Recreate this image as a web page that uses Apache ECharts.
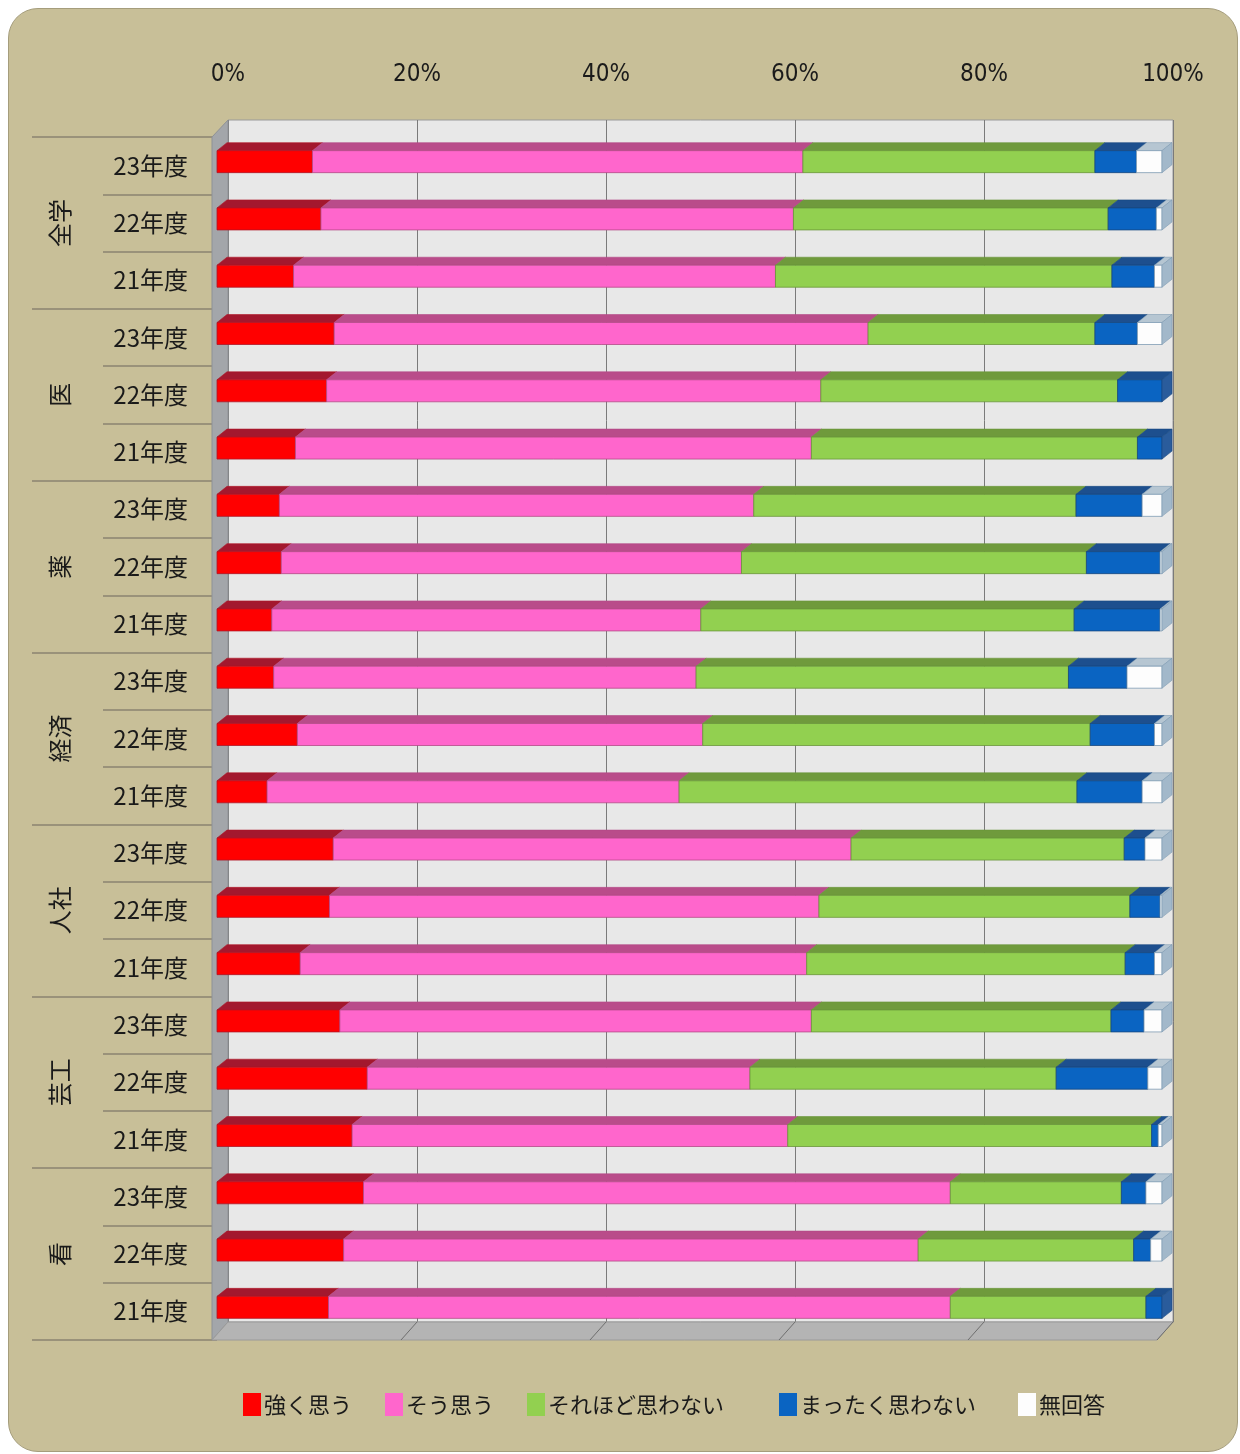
<!DOCTYPE html>
<html>
<head>
<meta charset="utf-8">
<script src="https://cdn.jsdelivr.net/npm/echarts@6/dist/echarts.min.js"></script>
<style>
  html, body { margin: 0; padding: 0; background: #fff; }
  #frame {
    position: absolute; left: 8px; top: 8px; width: 1228px; height: 1442px;
    background: #c8bf98; border: 1px solid #a59d7c; border-radius: 30px;
  }
  #chart { position: absolute; left: 0; top: 0; width: 1240px; height: 1454px; }
</style>
</head>
<body>
<div id="frame"></div>
<div id="chart"></div>
<script>
(function() {
  'use strict';

  // ========== Data ==========
  var groups = ['全学', '医', '薬', '経済', '人社', '芸工', '看'];
  var years = ['23年度', '22年度', '21年度'];
  var seriesNames = ['強く思う', 'そう思う', 'それほど思わない', 'まったく思わない', '無回答'];

  // one value per row (group x year, top to bottom), percent
  var strong = [10.1, 11.0, 8.1, 12.4, 11.6, 8.3, 6.6, 6.8, 5.8, 6.0, 8.5, 5.3, 12.3, 11.9, 8.8, 13.0, 15.9, 14.3, 15.5, 13.4, 11.8];
  var agree = [51.9, 50.0, 51.0, 56.5, 52.3, 54.6, 50.2, 48.7, 45.4, 44.7, 42.9, 43.6, 54.8, 51.8, 53.6, 49.9, 40.5, 46.1, 62.1, 60.8, 65.8];
  var notMuch = [30.9, 33.3, 35.6, 24.0, 31.4, 34.5, 34.1, 36.5, 39.5, 39.4, 41.0, 42.1, 28.9, 32.9, 33.7, 31.7, 32.4, 38.5, 18.1, 22.8, 20.7];
  var notAtAll = [4.4, 5.1, 4.5, 4.5, 4.7, 2.6, 7.0, 7.8, 9.1, 6.2, 6.8, 6.9, 2.2, 3.2, 3.1, 3.5, 9.7, 0.7, 2.6, 1.8, 1.7];
  var noAnswer = [2.7, 0.6, 0.8, 2.6, 0, 0, 2.1, 0.2, 0.2, 3.7, 0.8, 2.1, 1.8, 0.2, 0.8, 1.9, 1.5, 0.4, 1.7, 1.2, 0];

  var xTicks = [0, 20, 40, 60, 80, 100];

  var valueSets = [strong, agree, notMuch, notAtAll, noAnswer];
  var faceColors = ['#ff0000', '#ff66cc', '#92d050', '#0a64c2', '#fdfdfd'];
  var topColors = ['#a3182e', '#b94c8a', '#6f9a3c', '#1d4f8e', '#b6c6d2'];
  var sideColors = ['#c01020', '#c8559a', '#7aa844', '#2a5c9c', '#a2b8ca'];
  var edgeColors = ['#b01526', '#b34a86', '#6a953a', '#17487f', '#7f9cb4'];
  var legendLeft = [243, 385, 527, 779, 1018];

  var rowLabels = [];
  groups.forEach(function(g) {
    years.forEach(function(y) { rowLabels.push(y); });
  });

  // stacked start/end per row for each answer
  var stacked = valueSets.map(function() { return []; });
  rowLabels.forEach(function(l, r) {
    var acc = 0;
    valueSets.forEach(function(vals, k) {
      stacked[k].push([r, acc, acc + vals[r]]);
      acc += vals[r];
    });
  });

  var DX = 10, DY = 8;

  function makeRender(k) {
    return function(params, api) {
      var row = api.value(0), s = api.value(1), e = api.value(2);
      if (e - s <= 0) return;
      var p0 = api.coord([s, row]);
      var p1 = api.coord([e, row]);
      var yc = p0[1];
      var top = yc - 15, bot = yc + 7;
      var x0 = p0[0], x1 = p1[0];
      var children = [
        {
          type: 'polygon',
          shape: { points: [[x0, top], [x0 + DX, top - DY], [x1 + DX, top - DY], [x1, top]] },
          style: { fill: topColors[k], stroke: edgeColors[k], lineWidth: 0.6 }
        },
        {
          type: 'rect',
          shape: { x: x0, y: top, width: x1 - x0, height: bot - top },
          style: { fill: faceColors[k], stroke: edgeColors[k], lineWidth: 0.8 }
        }
      ];
      if (e >= 99.9) {
        children.push({
          type: 'polygon',
          shape: { points: [[x1, top], [x1 + DX, top - DY], [x1 + DX, bot - DY], [x1, bot]] },
          style: { fill: sideColors[k], stroke: edgeColors[k], lineWidth: 0.6 }
        });
      }
      return { type: 'group', children: children };
    };
  }

  var lineColor = '#8a8470';
  var ink = '#1a1a1a';
  var cjk = "'Noto Sans CJK JP', sans-serif";

  var chart = echarts.init(document.getElementById('chart'), null, { renderer: 'canvas' });
  chart.setOption({
    animation: false,
    backgroundColor: 'transparent',
    grid: [
      // back wall
      { left: 228, right: 67, top: 120, bottom: 132, show: true, backgroundColor: '#e8e8e8', borderColor: '#9a9a9a', borderWidth: 1 },
      // bars / year labels
      { left: 217, right: 78, top: 137, bottom: 114 },
      // group labels
      { left: 217, right: 78, top: 137, bottom: 114 }
    ],
    xAxis: [
      {
        gridIndex: 0, type: 'value', position: 'top', min: 0, max: 100, interval: 20,
        axisLine: { show: true, lineStyle: { color: '#9a9a9a' } },
        axisTick: { show: true, length: 8, lineStyle: { color: '#7a7a7a' } },
        axisLabel: {
          margin: 33, color: ink, fontSize: 24,
          fontFamily: "'Liberation Sans Narrow', 'DejaVu Sans Condensed', sans-serif",
          formatter: '{value}%'
        },
        splitLine: { show: true, lineStyle: { color: '#7a7a7a', width: 1 } }
      },
      { gridIndex: 1, type: 'value', min: 0, max: 100, show: false },
      { gridIndex: 2, type: 'value', min: 0, max: 100, show: false }
    ],
    yAxis: [
      { gridIndex: 0, type: 'value', show: false },
      {
        gridIndex: 1, type: 'category', data: rowLabels, inverse: true, offset: 5,
        axisLine: { show: false },
        axisTick: { show: true, length: 114, lineStyle: { color: lineColor, width: 1.5 } },
        axisLabel: { margin: 24, color: ink, fontSize: 24, fontFamily: cjk }
      },
      {
        gridIndex: 2, type: 'category', data: groups, inverse: true, offset: 5,
        axisLine: { show: false },
        axisTick: { show: true, length: 185, lineStyle: { color: lineColor, width: 1.5 } },
        axisLabel: {
          margin: 152, rotate: 90, align: 'center', verticalAlign: 'middle',
          color: ink, fontSize: 24, fontFamily: cjk
        }
      }
    ],
    // one legend per item so each sits where the original has it
    legend: seriesNames.map(function(name, i) {
      return {
        left: legendLeft[i], top: 1393, padding: 0,
        itemWidth: 18, itemHeight: 23,
        icon: 'rect',
        textStyle: { color: ink, fontSize: 22, fontFamily: cjk, padding: [0, 0, 0, -2] },
        data: [name]
      };
    }),
    series: seriesNames.map(function(name, k) {
      return {
        name: name,
        type: 'custom',
        xAxisIndex: 1,
        yAxisIndex: 1,
        z: 3,
        itemStyle: { color: faceColors[k] },
        encode: { x: [1, 2], y: 0 },
        renderItem: makeRender(k),
        data: stacked[k]
      };
    })
  });

  // ========== 3D walls (decoration) ==========
  var yTop = 120, yBack = 1322, yFront = 1340;
  var xBack0 = chart.convertToPixel({ xAxisIndex: 0 }, 0);
  var xBack1 = chart.convertToPixel({ xAxisIndex: 0 }, 100);
  var depth = 16;
  var gfx = [
    {
      type: 'polygon', z: 1,
      shape: { points: [[xBack0 - depth, yTop + 17], [xBack0, yTop], [xBack0, yBack], [xBack0 - depth, yFront]] },
      style: { fill: '#a3a6aa', stroke: '#8e9196', lineWidth: 1 }
    },
    {
      type: 'polygon', z: 1,
      shape: { points: [[xBack0 - depth, yFront], [xBack0, yBack], [xBack1, yBack], [xBack1 - depth, yFront]] },
      style: { fill: '#b4b4b4', stroke: '#9a9a9a', lineWidth: 1 }
    }
  ];
  xTicks.forEach(function(t) {
    if (t === 0) return;
    var x = chart.convertToPixel({ xAxisIndex: 0 }, t);
    gfx.push({
      type: 'line', z: 1,
      shape: { x1: x, y1: yBack, x2: x - depth, y2: yFront },
      style: { stroke: '#6e6e6e', lineWidth: 1 }
    });
  });
  chart.setOption({ graphic: gfx });
  window.addEventListener('resize', function() { chart.resize(); });
})();
</script>
</body>
</html>
